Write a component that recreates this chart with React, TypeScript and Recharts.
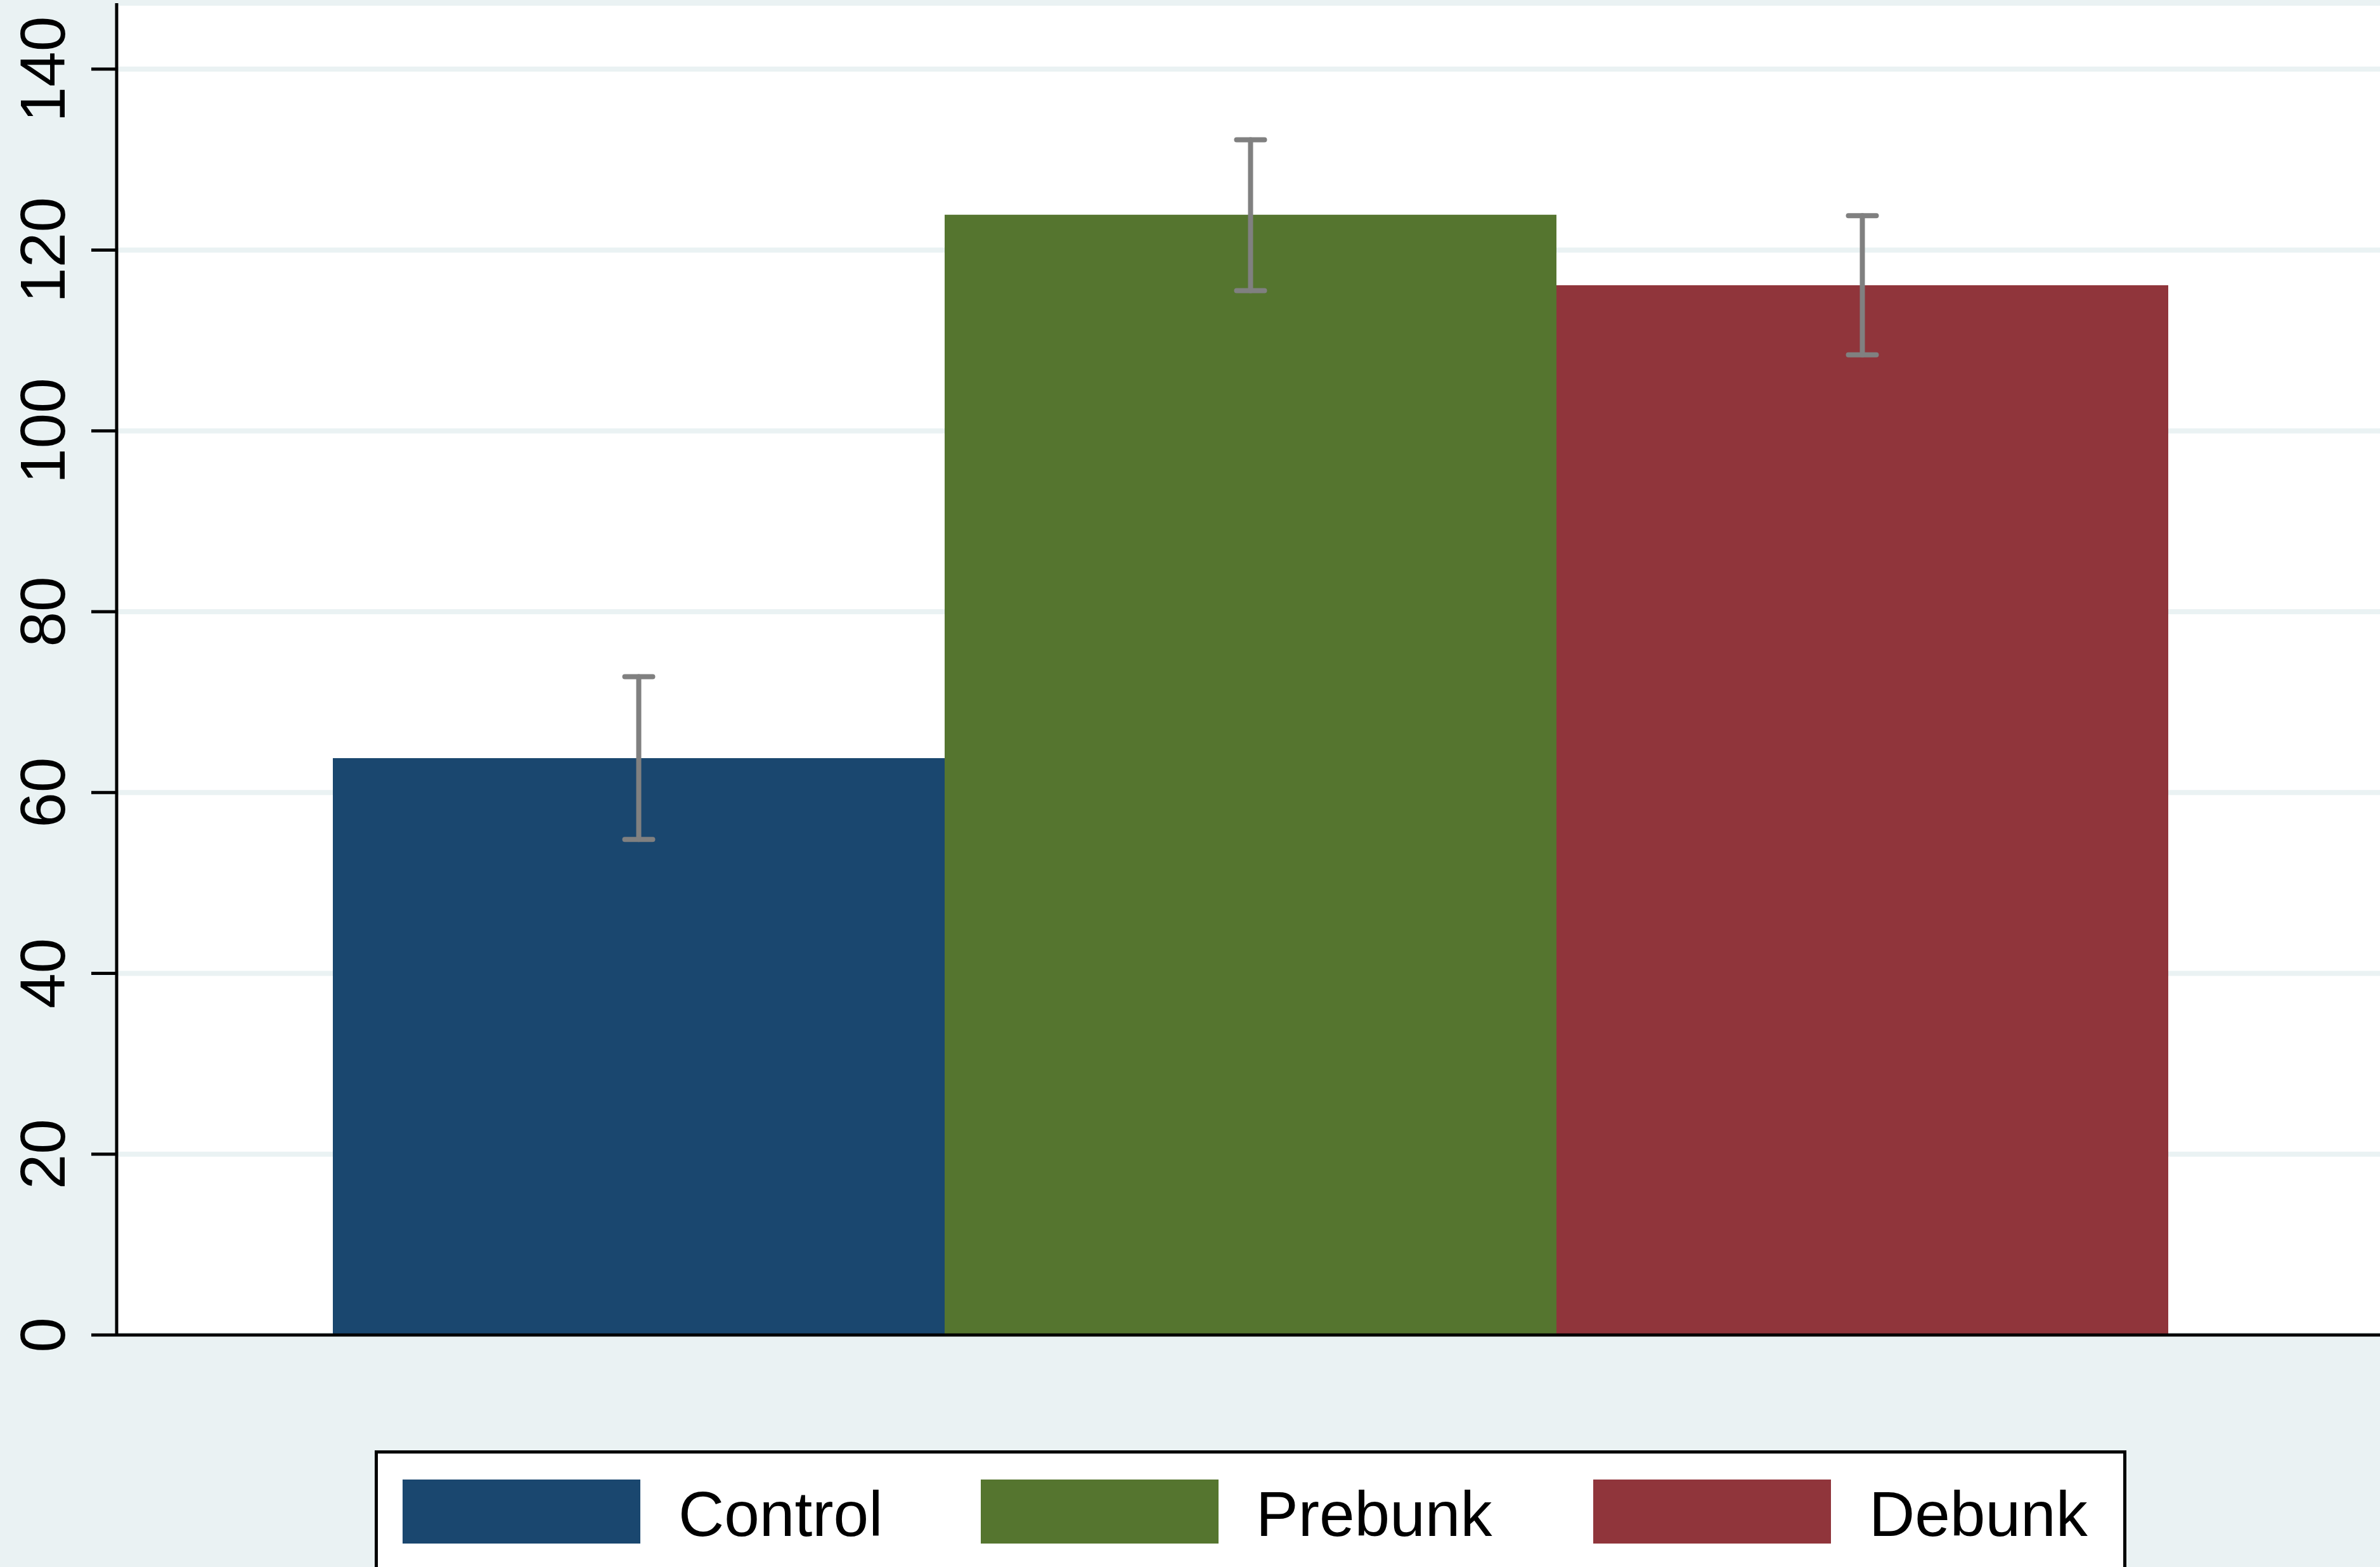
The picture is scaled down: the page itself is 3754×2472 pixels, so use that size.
import React from 'react';
import { BarChart, Bar, XAxis, YAxis, CartesianGrid, ErrorBar, Legend } from 'recharts';

const groups = ['Control', 'Prebunk', 'Debunk'];
const means = [63.8, 123.9, 116.1];
const ciLow = [54.8, 115.5, 108.4];
const ciHigh = [72.8, 132.2, 123.8];
const yTicks = [0, 20, 40, 60, 80, 100, 120, 140];
const colors = ['#1A476F', '#55752F', '#90353B'];

const row: any = { name: 'all' };
groups.forEach((g, i) => {
  row[g] = means[i];
  row[g + '_err'] = [means[i] - ciLow[i], ciHigh[i] - means[i]];
});
const data = [row];

const FONT = '"Liberation Sans", Arial, Helvetica, sans-serif';
const BG = '#EAF2F3';

const YTick = (props: any) => {
  const { y, payload } = props;
  return (
    <text
      x={102}
      y={y}
      transform={`rotate(-90, 102, ${y})`}
      textAnchor="middle"
      fontSize={100}
      fontFamily={FONT}
      fill="#000"
    >
      {payload.value}
    </text>
  );
};

const swatchLeft = [39, 951, 1917];
const textLeft = [474, 1385, 2352];

const LegendBox = () => (
  <div
    style={{
      width: 2763,
      height: 184,
      boxSizing: 'border-box',
      borderTop: '5px solid #000',
      borderLeft: '5px solid #000',
      borderRight: '5px solid #000',
      background: '#FFFFFF',
      position: 'relative',
    }}
  >
    <svg width={2753} height={179} style={{ position: 'absolute', left: 0, top: 0 }}>
      {groups.map((g, i) => (
        <g key={g}>
          <rect x={swatchLeft[i]} y={41} width={375} height={101} fill={colors[i]} />
          <text x={textLeft[i]} y={130} fontSize={100} fontFamily={FONT} fill="#000">
            {g}
          </text>
        </g>
      ))}
    </svg>
  </div>
);

export default function App() {
  return (
    <div
      style={{
        position: 'absolute',
        left: 0,
        top: 0,
        width: 3754,
        height: 2472,
        background: BG,
        overflow: 'hidden',
      }}
    >
      <BarChart
        width={3754}
        height={2472}
        data={data}
        margin={{ top: 5, right: 0, bottom: 365, left: 0 }}
        barSize={965}
        barGap={0}
      >
        <CartesianGrid vertical={false} stroke={BG} strokeWidth={8} fill="#FFFFFF" fillOpacity={1} />
        {groups.map((g, i) => (
          <Bar key={g} dataKey={g} fill={colors[i]} isAnimationActive={false}>
            <ErrorBar
              dataKey={g + '_err'}
              direction="y"
              width={22}
              strokeWidth={8}
              stroke="#808080"
              strokeLinecap="round"
            />
          </Bar>
        ))}
        <XAxis
          dataKey="name"
          height={1}
          tick={false}
          tickLine={false}
          padding={{ left: 6, right: 0 }}
          axisLine={{ stroke: '#000', strokeWidth: 5 }}
        />
        <YAxis
          type="number"
          width={184}
          domain={[0, 147.3]}
          allowDataOverflow
          ticks={yTicks}
          interval={0}
          tickSize={40}
          tick={<YTick />}
          tickLine={{ stroke: '#000', strokeWidth: 5 }}
          axisLine={{ stroke: '#000', strokeWidth: 5 }}
        />
        <Legend
          verticalAlign="middle"
          align="center"
          layout="horizontal"
          wrapperStyle={{ left: 591, top: 2288, width: 2763, height: 184 }}
          content={<LegendBox />}
        />
      </BarChart>
    </div>
  );
}
